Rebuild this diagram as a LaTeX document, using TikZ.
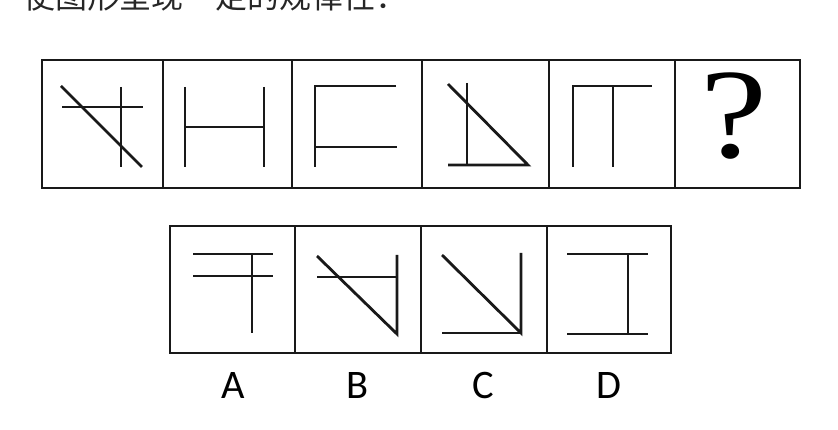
\documentclass[tikz,border=0pt]{standalone}
\usepackage{fontspec}
\usepackage{tikz}
\newfontfamily\cjk{Noto Sans CJK SC}
\newfontfamily\qserif{Liberation Serif}
\newfontfamily\labsans{Carlito}
\tikzset{
  cellframe/.style={line width=2.4pt, black!90},
  figline/.style={line width=2.8pt, black!90}
}

\begin{document}
\begin{tikzpicture}[x=1pt, y=-1pt]
        \useasboundingbox (0,0) rectangle (838,430);
        % cut-off question line
        \begin{scope}
          \clip (0,0) rectangle (838,430);
          \node[anchor=base west, inner sep=0pt, font=\cjk\fontsize{32}{32}\selectfont, black!85]
            (title) at (23,9) {使图形呈现一定的规律性：};
        \end{scope}
        % top row
        \draw[cellframe] (42,60) rectangle (800,188);
        \foreach \x in {163,292,422,549,675}
          \draw[cellframe] (\x,60) -- (\x,188);
        \draw[figline] (61,86) -- (142,167);
        \draw[figline] (62,107) -- (143,107);
        \draw[figline] (121,87) -- (121,167);
        \draw[figline] (185,87) -- (185,167);
        \draw[figline] (264,87) -- (264,167);
        \draw[figline] (185,127) -- (264,127);
        \draw[figline] (396,86) -- (315,86) -- (315,167);
        \draw[figline] (315,147) -- (397,147);
        \draw[figline] (448,84) -- (528,165) -- (448,165);
        \draw[figline] (467,83) -- (467,165);
        \draw[figline] (573,167) -- (573,86) -- (652,86);
        \draw[figline] (613,86) -- (613,167);
        \node[anchor=base, inner sep=0pt, font=\qserif\fontsize{128}{128}\selectfont]
          (qmark) at (734,158) {\scalebox{1.18}[1]{?}};
        % answer row
        \draw[cellframe] (170,226) rectangle (671,353);
        \foreach \x in {295,421,547}
          \draw[cellframe] (\x,226) -- (\x,353);
        \draw[figline] (193,254) -- (273,254);
        \draw[figline] (193,276) -- (273,276);
        \draw[figline] (252,254) -- (252,333);
        \draw[figline] (317,256) -- (397,334) -- (397,255);
        \draw[figline] (317,277) -- (397,277);
        \draw[figline] (442,255) -- (521,333) -- (521,253);
        \draw[figline] (442,333) -- (521,333);
        \draw[figline] (567,254) -- (648,254);
        \draw[figline] (567,334) -- (648,334);
        \draw[figline] (628,254) -- (628,334);
        \node[anchor=base, font=\labsans\fontsize{40.5}{40.5}\selectfont] (labA) at (233.5,398) {A};
        \node[anchor=base, font=\labsans\fontsize{40.5}{40.5}\selectfont] (labB) at (357.5,398) {B};
        \node[anchor=base, font=\labsans\fontsize{40.5}{40.5}\selectfont] (labC) at (483.5,398) {C};
        \node[anchor=base, font=\labsans\fontsize{40.5}{40.5}\selectfont] (labD) at (608.5,398) {D};
      \end{tikzpicture}
\end{document}
